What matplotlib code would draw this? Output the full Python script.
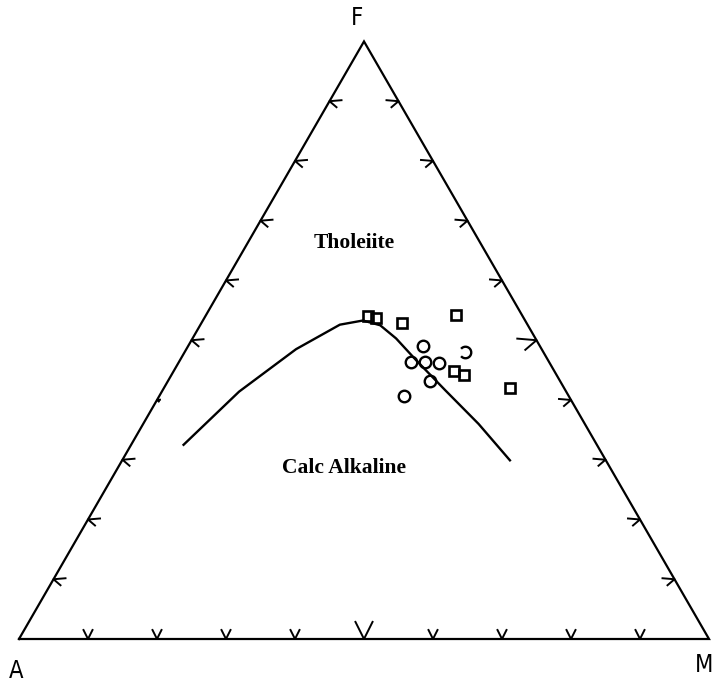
import numpy as np
import matplotlib
matplotlib.use("Agg")
import matplotlib.pyplot as plt
from matplotlib.path import Path

# AFM compositions in percent: (A, F, M)
squares_A = [22.4, 21.3, 18.0, 9.5, 14.6, 13.4, 7.8]
squares_F = [54.0, 53.8, 52.9, 54.2, 44.8, 44.1, 42.0]
squares_M = [23.6, 24.9, 29.1, 36.3, 40.6, 42.5, 50.2]

circles_A = [16.9, 20.0, 17.9, 16.1, 18.8, 23.9]
circles_F = [49.1, 46.4, 46.4, 46.2, 43.2, 40.6]
circles_M = [34.0, 33.6, 35.7, 37.7, 38.0, 35.5]

# one sample drawn with an open ring
open_A = [11.4]
open_F = [48.0]
open_M = [40.6]

# tholeiite / calc-alkaline dividing line
line_A = [59.9, 47.4, 35.6, 27.2, 23.5, 21.4, 20.2, 19.1, 17.4, 15.4, 13.9]
line_F = [32.5, 41.4, 48.5, 52.6, 53.3, 52.5, 50.3, 46.6, 41.6, 36.0, 29.9]
line_M = [7.6, 11.2, 15.9, 20.2, 23.2, 26.1, 29.5, 34.3, 41.0, 48.6, 56.2]

tick_fracs = [10, 20, 30, 40, 50, 60, 70, 80, 90]

H = np.sqrt(3) / 2


def project(a, f, m):
    a, f, m = (np.asarray(v, dtype=float) for v in (a, f, m))
    s = a + f + m
    f, m = 100 * f / s, 100 * m / s
    return m + f / 2, f * H


PX = 6.9  # pixels per percent unit
fig = plt.figure(figsize=(7.17, 6.84), dpi=100)
ax = fig.add_axes([0, 0, 1, 1])
ax.set_xlim(-19 / PX, (717 - 19) / PX)
ax.set_ylim(-(684 - 639) / PX, 639 / PX)
ax.set_aspect("equal")
ax.axis("off")

lw = 1.6
# triangle frame
tx, ty = project([100, 0, 0, 100], [0, 0, 100, 0], [0, 100, 0, 0])
ax.plot(tx, ty, color="black", lw=lw, solid_joinstyle="miter")


def chevron(x0, y0, arm1, arm2, scale=1.0):
    (dx1, dy1), (dx2, dy2) = arm1, arm2
    xs = [x0 + scale * dx1 / PX, x0, x0 + scale * dx2 / PX]
    ys = [y0 + scale * dy1 / PX, y0, y0 + scale * dy2 / PX]
    ax.plot(xs, ys, color="black", lw=1.4)


# bottom edge (A-M) ticks
for t in tick_fracs:
    x, y = project(100 - t, 0, t)
    sc = 1.9 if t == 50 else 1.0
    chevron(x, y, (-4.5, 9), (4.5, 9), sc)

# left edge (A-F) ticks
for t in tick_fracs:
    x, y = project(100 - t, t, 0)
    sc = 0.25 if t == 40 else 1.0
    chevron(x, y, (12, 1), (7, -6), sc)

# right edge (F-M) ticks
for t in tick_fracs:
    x, y = project(0, t, 100 - t)
    sc = 1.6 if t == 50 else 1.0
    chevron(x, y, (-12, 1), (-7, -6), sc)

# dividing line
lx, ly = project(line_A, line_F, line_M)
ax.plot(lx, ly, color="black", lw=1.7, solid_joinstyle="round")

# samples
sx, sy = project(squares_A, squares_F, squares_M)
ax.plot(sx, sy, ls="none", marker="s", ms=7.8, mfc="none", mec="black", mew=1.9)
cx, cy = project(circles_A, circles_F, circles_M)
ax.plot(cx, cy, ls="none", marker="o", ms=8.3, mfc="none", mec="black", mew=1.7)
ox, oy = project(open_A, open_F, open_M)
ax.plot(ox, oy, ls="none", marker=Path.arc(-140, 140), ms=8.3, mfc="none",
        mec="black", mew=1.7)

# field labels
serif = dict(family=["Liberation Serif", "DejaVu Serif"], fontweight="bold",
             fontsize=15.5, ha="center", va="baseline")
ax.text((354 - 19) / PX, (639 - 248) / PX, "Tholeiite", **serif)
ax.text((344 - 19) / PX, (639 - 473) / PX, "Calc Alkaline", **serif)

# vertex labels
vfont = dict(family=["DejaVu Sans"], fontsize=17, ha="center", va="baseline",
             fontstretch="condensed")
ax.text((357 - 19) / PX, (639 - 25) / PX, "F", **vfont)
ax.text((16 - 19) / PX, (639 - 678) / PX, "A", **vfont)
ax.text((704 - 19) / PX, (639 - 672) / PX, "M", **vfont)

fig.savefig("out.png", dpi=100, facecolor="white")
